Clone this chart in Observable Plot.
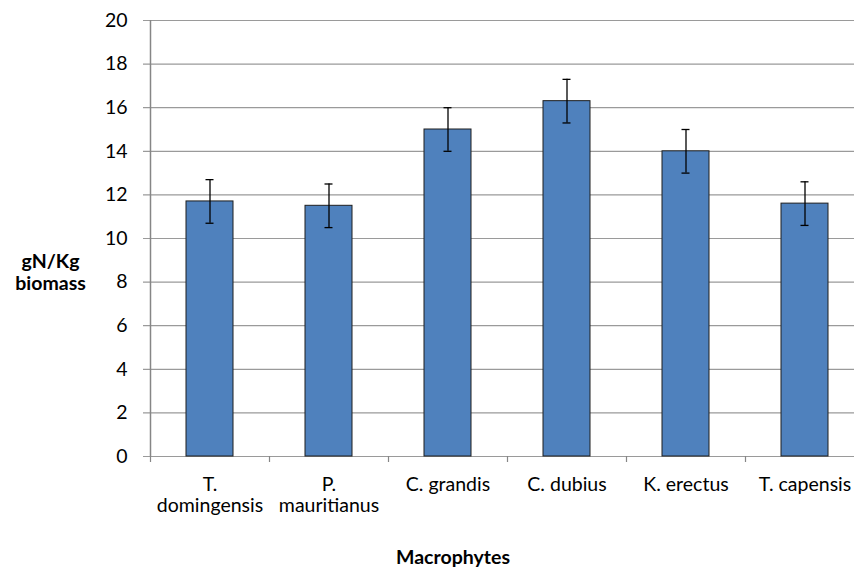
<!DOCTYPE html>
<html>
<head>
<meta charset="utf-8">
<script src="https://cdn.jsdelivr.net/npm/d3@7"></script>
<script src="https://cdn.jsdelivr.net/npm/@observablehq/plot@0.6"></script>
<style>
  html, body { margin: 0; padding: 0; background: #fff; overflow: hidden; }
  #chart svg { font-family: Lato, "Open Sans", sans-serif; }
</style>
</head>
<body>
<div id="chart"></div>
<script>
const categories = ["T.\ndomingensis", "P.\nmauritianus", "C. grandis", "C. dubius", "K. erectus", "T. capensis"];
const values = [11.7, 11.5, 15.0, 16.3, 14.0, 11.6];
const errors = [1, 1, 1, 1, 1, 1];
const yTicks = [0, 2, 4, 6, 8, 10, 12, 14, 16, 18, 20];
const xTitle = "Macrophytes";
const yTitle = "gN/Kg\nbiomass";

const data = categories.map((c, i) => ({cat: c, value: values[i], err: errors[i]}));

const step = (864 - 150) / categories.length;
const fs = 19.5;

const chart = Plot.plot({
  width: 854,
  height: 569,
  marginTop: 20,
  marginBottom: 113,
  marginLeft: 150,
  marginRight: 0,
  style: {fontFamily: "Lato, 'Open Sans', sans-serif", fontSize: fs + "px", color: "#000", background: "#fff", overflow: "visible"},
  x: {domain: categories, range: [150, 864], padding: 0, axis: null},
  y: {domain: [0, 20], range: [456, 20], axis: null},
  marks: [
    Plot.ruleY(yTicks, {stroke: "#9a9a9a", strokeWidth: 1.2, insetLeft: -7}),
    Plot.ruleX(categories, {x: d => d, y1: 0, y2: 0, dx: -step / 2, insetBottom: -6, stroke: "#868686", strokeWidth: 1.2}),
    Plot.ruleX([categories[0]], {x: d => d, y1: 0, y2: 20, dx: -step / 2, stroke: "#868686", strokeWidth: 1.5}),
    Plot.barY(data, {x: "cat", y: "value", fill: "#4f81bd", stroke: "#1e1e1e", strokeWidth: 1, insetLeft: 36, insetRight: 36}),
    Plot.ruleX(data, {x: "cat", y1: d => d.value - d.err, y2: d => d.value + d.err, stroke: "#000", strokeWidth: 1.3}),
    Plot.tickY(data, {x: "cat", y: d => d.value + d.err, stroke: "#000", strokeWidth: 1.3, insetLeft: step / 2 - 4, insetRight: step / 2 - 4}),
    Plot.tickY(data, {x: "cat", y: d => d.value - d.err, stroke: "#000", strokeWidth: 1.3, insetLeft: step / 2 - 4, insetRight: step / 2 - 4}),
    Plot.axisY({ticks: yTicks, tickSize: 0, tickPadding: 23, fontSize: fs, label: null, fill: "#000"}),
    Plot.axisX({tickSize: 0, tickPadding: 19, fontSize: fs, lineHeight: 1.1, label: null, fill: "#000"}),
    Plot.text([xTitle], {frameAnchor: "bottom", dx: -49.5, dy: 107, fontWeight: "bold", fontSize: fs, fill: "#000"}),
    Plot.text([yTitle], {frameAnchor: "left", dx: -100, dy: 33, fontWeight: "bold", fontSize: fs, lineHeight: 1.13, textAnchor: "middle", fill: "#000"})
  ]
});
document.getElementById("chart").appendChild(chart);
</script>
</body>
</html>
